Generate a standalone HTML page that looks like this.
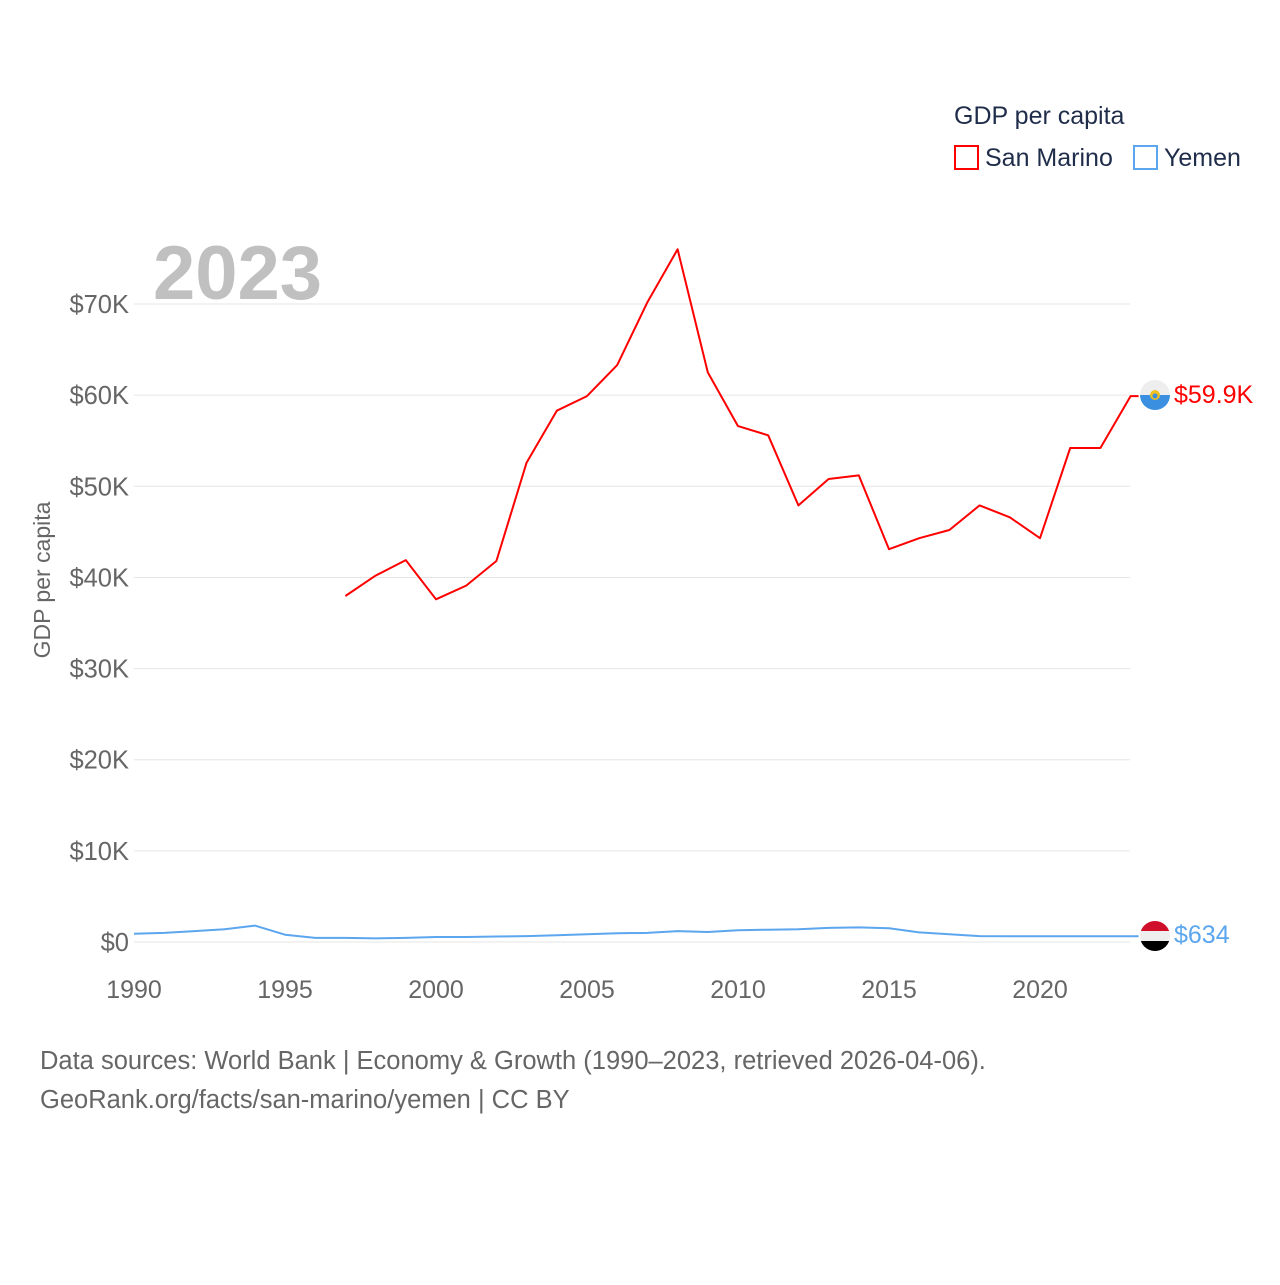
<!DOCTYPE html>
<html><head><meta charset="utf-8"><style>
body{margin:0;background:#fff;}
svg text{font-family:"Liberation Sans",sans-serif;}
</style></head><body>
<svg id="chart" width="1280" height="1280" xmlns="http://www.w3.org/2000/svg">
<rect width="1280" height="1280" fill="#fff"/>
<g id="grid"></g>
<text x="153" y="299" font-size="76" font-weight="bold" fill="#c0c0c0">2023</text>
<text x="954" y="124" font-size="25" fill="#1f2d4a">GDP per capita</text>
<g><rect x="955" y="146" width="23" height="23" fill="none" stroke="#ff0000" stroke-width="2"/><text x="985" y="166" font-size="25" fill="#1f2d4a">San Marino</text></g>
<g><rect x="1134" y="146" width="23" height="23" fill="none" stroke="#5ba6ee" stroke-width="2"/><text x="1164" y="166" font-size="25" fill="#1f2d4a">Yemen</text></g>
<text transform="translate(50,580) rotate(-90)" text-anchor="middle" font-size="23" fill="#666">GDP per capita</text>
<g id="ticks"></g>
<g id="series"></g>
<g><clipPath id="c1"><circle cx="1155" cy="395" r="15"/></clipPath><g clip-path="url(#c1)"><rect x="1140" y="380" width="30" height="15" fill="#eee"/><rect x="1140" y="395" width="30" height="15" fill="#3a8fe0"/><circle cx="1155" cy="395" r="5" fill="#f0c020"/><circle cx="1155" cy="396" r="2.5" fill="#3a8fe0"/></g></g>
<text x="1174" y="403" font-size="25" fill="#ff0000">$59.9K</text>
<g><clipPath id="c2"><circle cx="1155" cy="936" r="15"/></clipPath><g clip-path="url(#c2)"><rect x="1140" y="921" width="30" height="10" fill="#d0102a"/><rect x="1140" y="931" width="30" height="10" fill="#eee"/><rect x="1140" y="941" width="30" height="10" fill="#000"/></g></g>
<text x="1174" y="943" font-size="25" fill="#5ba6ee">$634</text>
<text x="40" y="1069" font-size="25.5" fill="#666">Data sources: World Bank | Economy &amp; Growth (1990–2023, retrieved 2026-04-06).</text>
<text x="40" y="1108" font-size="25.5" fill="#666">GeoRank.org/facts/san-marino/yemen | CC BY</text>
</svg>
<script>
const years=[1990,1991,1992,1993,1994,1995,1996,1997,1998,1999,2000,2001,2002,2003,2004,2005,2006,2007,2008,2009,2010,2011,2012,2013,2014,2015,2016,2017,2018,2019,2020,2021,2022,2023];
const sanMarino=[null,null,null,null,null,null,null,37.96,40.2,41.9,37.6,39.1,41.8,52.6,58.3,59.9,63.3,70.2,76.0,62.5,56.6,55.6,47.9,50.8,51.2,43.1,44.3,45.2,47.9,46.6,44.3,54.2,54.2,59.9];
const yemen=[0.9,1.0,1.2,1.4,1.8,0.8,0.45,0.45,0.4,0.45,0.55,0.55,0.6,0.65,0.75,0.85,0.95,1.0,1.2,1.1,1.3,1.35,1.4,1.55,1.6,1.5,1.05,0.85,0.65,0.634,0.634,0.634,0.634,0.634];
const yTicks=[0,10,20,30,40,50,60,70];
const yTickLabels=["$0","$10K","$20K","$30K","$40K","$50K","$60K","$70K"];
const xTicks=[1990,1995,2000,2005,2010,2015,2020];
const NS="http://www.w3.org/2000/svg";
const xs=y=>134+(y-1990)*30.2;
const ys=v=>942-v*9.114;
const grid=document.getElementById('grid'),ticks=document.getElementById('ticks'),series=document.getElementById('series');
yTicks.forEach((t,i)=>{
 const l=document.createElementNS(NS,'line');
 l.setAttribute('x1',134);l.setAttribute('x2',1130);l.setAttribute('y1',ys(t));l.setAttribute('y2',ys(t));
 l.setAttribute('stroke','#e6e6e6');l.setAttribute('stroke-width',1);
 
 
 grid.appendChild(l);
 const tx=document.createElementNS(NS,'text');
 tx.setAttribute('x',129);tx.setAttribute('y',ys(t)+9);tx.setAttribute('text-anchor','end');tx.setAttribute('font-size',25.5);tx.setAttribute('fill','#666');
 tx.textContent=yTickLabels[i];
 
 
 ticks.appendChild(tx);
});
xTicks.forEach(t=>{
 const tx=document.createElementNS(NS,'text');
 tx.setAttribute('x',xs(t));tx.setAttribute('y',998);tx.setAttribute('text-anchor','middle');tx.setAttribute('font-size',25);tx.setAttribute('fill','#666');
 tx.textContent=t;
 
 
 ticks.appendChild(tx);
});
function line(vals,color,name,extend){
 let d='';
 vals.forEach((v,i)=>{if(v==null)return;d+=(d?'L':'M')+xs(years[i]).toFixed(1)+','+ys(v).toFixed(1);});
 if(extend){d+='L'+(xs(years[years.length-1])+extend)+','+ys(vals[vals.length-1]).toFixed(1);}
 const p=document.createElementNS(NS,'path');
 p.setAttribute('d',d);p.setAttribute('fill','none');p.setAttribute('stroke',color);p.setAttribute('stroke-width',2);p.setAttribute('stroke-linejoin','round');
 
 
 series.appendChild(p);
}
line(sanMarino,'#ff0000','san-marino-line',8);
line(yemen,'#5ba6ee','yemen-line',8);
</script>
</body></html>
